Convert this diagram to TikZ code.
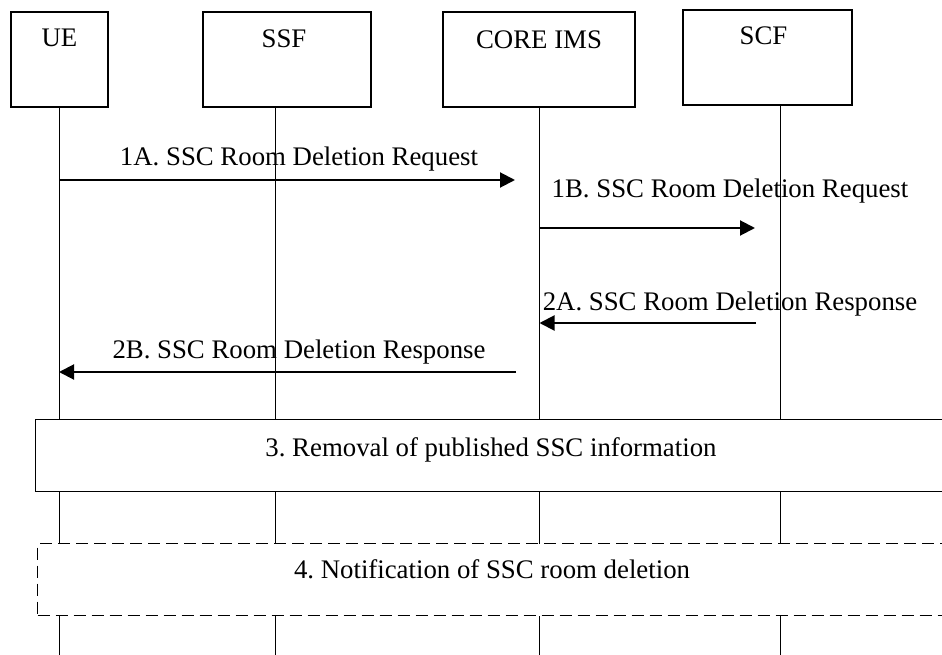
\documentclass[tikz,border=0pt]{standalone}
\usepackage{fontspec}
\setmainfont{Liberation Serif}
\usetikzlibrary{arrows.meta}
\begin{document}
\frenchspacing
\begin{tikzpicture}[x=1pt,y=-1pt,
  font=\fontsize{26.8}{31}\selectfont,
  actor/.style={draw,line width=1.4pt,inner sep=0pt,minimum height=95pt},
  lifeline/.style={line width=1pt},
  msg/.style={line width=2pt,-{Triangle[length=15pt,width=15pt]}},
  lbl/.style={inner sep=0pt,anchor=base},
  phase/.style={draw,fill=white,line width=1.4pt,inner sep=0pt,anchor=north west,minimum width=925pt,minimum height=72pt},
]
\useasboundingbox (0,0) rectangle (942,655);
\clip (0,0) rectangle (942,655);

% actor boxes
\node[actor,minimum width=97pt] (ue) at (59.5,59.5) {};
\node[actor,minimum width=168pt] (ssf) at (287,59.5) {};
\node[actor,minimum width=192pt] (core) at (539,59.5) {};
\node[actor,minimum width=169pt,line width=2pt] (scf) at (767.5,57.5) {};
\node[inner sep=0pt] (ueT) at ([yshift=-27pt]ue.north) {UE};
\node[inner sep=0pt] (ssfT) at ([xshift=-3pt,yshift=-27pt]ssf.north) {SSF};
\node[inner sep=0pt] (coreT) at ([yshift=-28pt]core.north) {CORE IMS};
\node[inner sep=0pt] (scfT) at ([xshift=-4pt,yshift=-27pt]scf.north) {SCF};

% lifeline bottoms
\coordinate (ueB) at (59,655);
\coordinate (ssfB) at (275,655);
\coordinate (coreB) at (539.5,655);
\coordinate (scfB) at (780,655);
\draw[lifeline] (ue.south -| ueB) -- (ueB);
\draw[lifeline] (ssf.south -| ssfB) -- (ssfB);
\draw[lifeline] (core.south -| coreB) -- (coreB);
\draw[lifeline] (scf.south -| scfB) -- (scfB);

% messages
\coordinate (m1s) at (59,180);   \coordinate (m1e) at (515,180);
\coordinate (m2s) at (539.5,228); \coordinate (m2e) at (755,228);
\coordinate (m3s) at (756,323);  \coordinate (m3e) at (539.5,323);
\coordinate (m4s) at (516,372);  \coordinate (m4e) at (59,372);
\draw[msg] (m1s) -- (m1e);
\draw[msg] (m2s) -- (m2e);
\draw[msg] (m3s) -- (m3e);
\draw[msg] (m4s) -- (m4e);
\node[lbl] (l1) at (299,166) {1A. SSC Room Deletion Request};
\node[lbl] (l2) at (730,198) {1B. SSC Room Deletion Request};
\node[lbl] (l3) at (730,310) {2A. SSC Room Deletion Response};
\node[lbl] (l4) at (299,358) {2B. SSC Room Deletion Response};

% phases
\node[phase] (p3) at (35,419) {};
\node[lbl] (p3t) at (491,456) {3. Removal of published SSC information};
\node[phase,dashed,dash pattern=on 12pt off 6pt] (p4) at (37,543) {};
\node[lbl] (p4t) at (492,578) {4. Notification of SSC room deletion};
\end{tikzpicture}
\end{document}
